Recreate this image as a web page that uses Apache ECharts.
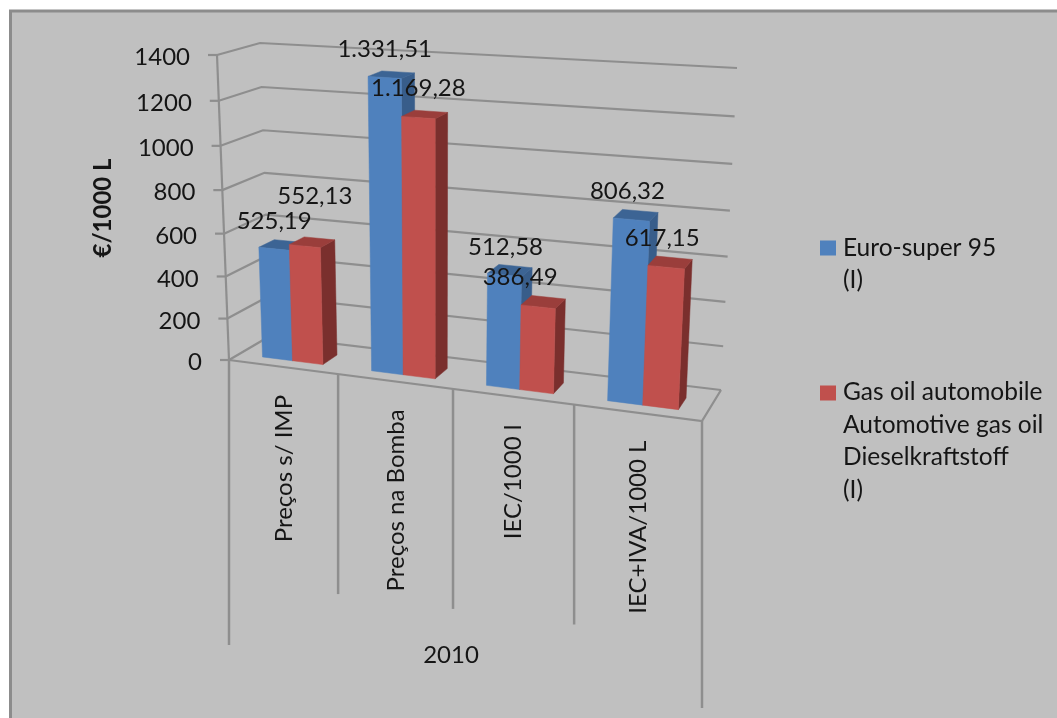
<!DOCTYPE html>
<html>
<head>
<meta charset="utf-8">
<style>
  html, body { margin: 0; padding: 0; background: #fff; }
  #chart { width: 1057px; height: 718px; }
</style>
<script src="https://cdn.jsdelivr.net/npm/echarts@6/dist/echarts.min.js"></script>
</head>
<body>
<div id="chart"></div>
<script>
// Fuel prices, 2010 (EUR per 1000 litres)
const categories = ['Preços s/ IMP', 'Preços na Bomba', 'IEC/1000 l', 'IEC+IVA/1000 L'];
const euroSuper95 = [525.19, 1331.51, 512.58, 806.32];
const gasOil = [552.13, 1169.28, 386.49, 617.15];
const euroSuperName = 'Euro-super 95\n(I)';
const gasOilName = 'Gas oil automobile\nAutomotive gas oil\nDieselkraftstoff\n(I)';
const yearLabel = '2010';
const axisTitle = '€/1000 L';
const yMax = 1400;
const yTicks = [0, 200, 400, 600, 800, 1000, 1200, 1400];

// Label nudges away from the default spot above each bar, in pixels.
const euroLabelNudge = [[0, 0], [0, 0], [1, 0], [-4, 0]];
const gasLabelNudge = [[10, -22], [0, -1], [-18, -2], [-4, -1]];

const FONT = 'Lato, "Noto Sans", sans-serif';
const INK = '#151515';
const RULE = '#8e8e8e';
const GRID = { left: 100, top: 100, width: 800, height: 500 };

// Corners of the 3D plot box on screen.
const BOX = {
  frontBottomLeft: [229, 360], frontBottomRight: [702, 421],
  frontTopLeft: [217, 55], frontTopRight: [718, 86],
  backBottomLeft: [270, 336], backBottomRight: [721, 390],
  backTopLeft: [260, 43], backTopRight: [737, 68]
};
const BAR_DEPTH = [0.25, 0.63];
const BAR_BAND = 0.56;
const BAR_SHIFT = 0;

const mix = (a, b, k) => [a[0] + (b[0] - a[0]) * k, a[1] + (b[1] - a[1]) * k];
const warpX = t => 0.8997 * t / (1 - 0.1003 * t);
const warpY = s => 0.943 * s / (1 - 0.057 * s);

// t: across the categories, d: front to back, s: up the value axis; all 0..1.
function project(t, d, s) {
  const u = warpX(t), v = warpY(s);
  const fb = mix(BOX.frontBottomLeft, BOX.frontBottomRight, u);
  const ft = mix(BOX.frontTopLeft, BOX.frontTopRight, u);
  const bb = mix(BOX.backBottomLeft, BOX.backBottomRight, u);
  const bt = mix(BOX.backTopLeft, BOX.backTopRight, u);
  return mix(mix(fb, ft, v), mix(bb, bt, v), d);
}
const toT = x => (x - GRID.left) / GRID.width;
const toS = y => (GRID.top + GRID.height - y) / GRID.height;

function poly(points, fill) {
  return { type: 'polygon', shape: { points }, style: { fill, stroke: fill, lineWidth: 0.5 } };
}
function line(points, width) {
  return {
    type: 'polyline', shape: { points },
    style: { stroke: RULE, lineWidth: width || 2.2, fill: 'none' }
  };
}
function text(str, x, y, opts) {
  return Object.assign({
    type: 'text', z2: 100,
    style: Object.assign({
      text: str, x: 0, y: 0, fill: INK, font: '24px ' + FONT,
      align: 'center', verticalAlign: 'middle'
    }, opts && opts.style),
    x, y
  }, opts && opts.el);
}

// One series of bars: slot 0 sits left of the band centre, slot 1 right of it.
function barRenderer(slot, front, top, side, nudges) {
  return function (params, api) {
    const idx = api.value(0), val = api.value(1);
    const p = api.coord([idx, val]);
    const band = api.size([1, 0])[0] / GRID.width;
    const t0 = toT(p[0]) + BAR_SHIFT - band * BAR_BAND / 2 + slot * band * BAR_BAND / 2;
    const t1 = t0 + band * BAR_BAND / 2;
    const s = toS(p[1]);
    const [d0, d1] = BAR_DEPTH;
    const a = project(t0, d0, 0), b = project(t1, d0, 0), c = project(t1, d0, s), e = project(t0, d0, s);
    const f = project(t1, d1, 0), g = project(t1, d1, s), h = project(t0, d1, s);
    const n = nudges[idx];
    return {
      type: 'group',
      children: [
        poly([b, f, g, c], side),
        poly([e, c, g, h], top),
        poly([a, b, c, e], front),
        text(api.value(1).toFixed(2).replace('.', ',').replace(/\B(?=(\d{3})(?!\d))/, '.'),
          (e[0] + c[0]) / 2 + n[0], (e[1] + c[1]) / 2 - 28 + n[1])
      ]
    };
  };
}

// Wall gridlines, floor outline and value ticks.
function renderTick(params, api) {
  const p = api.coord([0, api.value(0)]);
  const s = toS(p[1]);
  const fl = project(0, 0, s), bl = project(0, 1, s), br = project(1, 1, s);
  const children = [
    line([fl, bl, br]),
    line([[fl[0] - 9, fl[1]], fl]),
    text(String(api.value(0)), fl[0] - 27, fl[1] + 2.5, { style: { align: 'right' } })
  ];
  if (s === 0) {
    children.push(line([fl, project(1, 0, 0), br]));
    children.push(line([project(0, 0, 0), project(0, 0, 1)]));
  }
  return { type: 'group', children };
}

// Category separators below the floor, with their rotated labels.
function renderCategory(params, api) {
  const idx = api.value(0);
  const p = api.coord([idx, 0]);
  const band = api.size([1, 0])[0] / GRID.width;
  const t = toT(p[0]);
  const edge = project(t - band / 2, 0, 0);
  const mid = project(t, 0, 0);
  const children = [
    line([edge, [edge[0], edge[1] + (idx === 0 ? 285 : 220)]], 2.5),
    text(categories[idx], mid[0] + 1, mid[1] + 28, {
      style: { align: 'right' }, el: { rotation: Math.PI / 2 }
    })
  ];
  if (idx === categories.length - 1) {
    const end = project(t + band / 2, 0, 0);
    children.push(line([end, [end[0], end[1] + 287]], 2.5));
  }
  return { type: 'group', children };
}

const chart = echarts.init(document.getElementById('chart'), null, { renderer: 'canvas' });
chart.setOption({
  animation: false,
  backgroundColor: '#ffffff',
  grid: GRID,
  xAxis: { type: 'category', data: categories, show: false },
  yAxis: { type: 'value', min: 0, max: yMax, interval: 200, show: false },
  graphic: [
    { type: 'rect', z: -10, shape: { x: 10, y: 11, width: 1047, height: 707 }, style: { fill: '#c0c0c0' } },
    { type: 'polyline', z: -9, shape: { points: [[10.5, 718], [10.5, 11], [1057, 11]] }, style: { stroke: '#8c8c8c', lineWidth: 3, fill: 'none' } },
    {
      type: 'text', x: 103, y: 208, rotation: Math.PI / 2,
      style: { text: axisTitle, font: 'bold 24px ' + FONT, fill: INK, align: 'center', verticalAlign: 'middle' }
    },
    {
      type: 'text', x: 451, y: 655,
      style: { text: yearLabel, font: '24px ' + FONT, fill: INK, align: 'center', verticalAlign: 'middle' }
    }
  ],
  legend: {
    orient: 'vertical', left: 815, top: 194,
    itemWidth: 18, itemHeight: 130, itemGap: 47,
    textStyle: { fontFamily: FONT, fontSize: 24.5, lineHeight: 32.5, color: INK },
    selectedMode: false,
    data: [
      { name: euroSuperName, icon: 'path://M0 0M18 130M0 41.5H16V56.5H0Z' },
      { name: gasOilName, icon: 'path://M0 0M18 130M0 9.5H16V24.5H0Z' }
    ]
  },
  series: [
    { type: 'custom', coordinateSystem: 'cartesian2d', silent: true, data: yTicks.map(v => [v]), encode: { y: 0 }, renderItem: renderTick, z: 1 },
    { type: 'custom', coordinateSystem: 'cartesian2d', silent: true, data: categories.map((c, i) => [i]), encode: { x: 0 }, renderItem: renderCategory, z: 1 },
    {
      type: 'custom', name: euroSuperName, coordinateSystem: 'cartesian2d', silent: true,
      itemStyle: { color: '#4f81bd' }, z: 2,
      data: euroSuper95.map((v, i) => [i, v]), encode: { x: 0, y: 1 },
      renderItem: barRenderer(0, '#4f81bd', '#3c6494', '#385d8a', euroLabelNudge)
    },
    {
      type: 'custom', name: gasOilName, coordinateSystem: 'cartesian2d', silent: true,
      itemStyle: { color: '#c0504d' }, z: 2,
      data: gasOil.map((v, i) => [i, v]), encode: { x: 0, y: 1 },
      renderItem: barRenderer(1, '#c0504d', '#9a3e3b', '#7a2f2d', gasLabelNudge)
    }
  ]
});
</script>
</body>
</html>
